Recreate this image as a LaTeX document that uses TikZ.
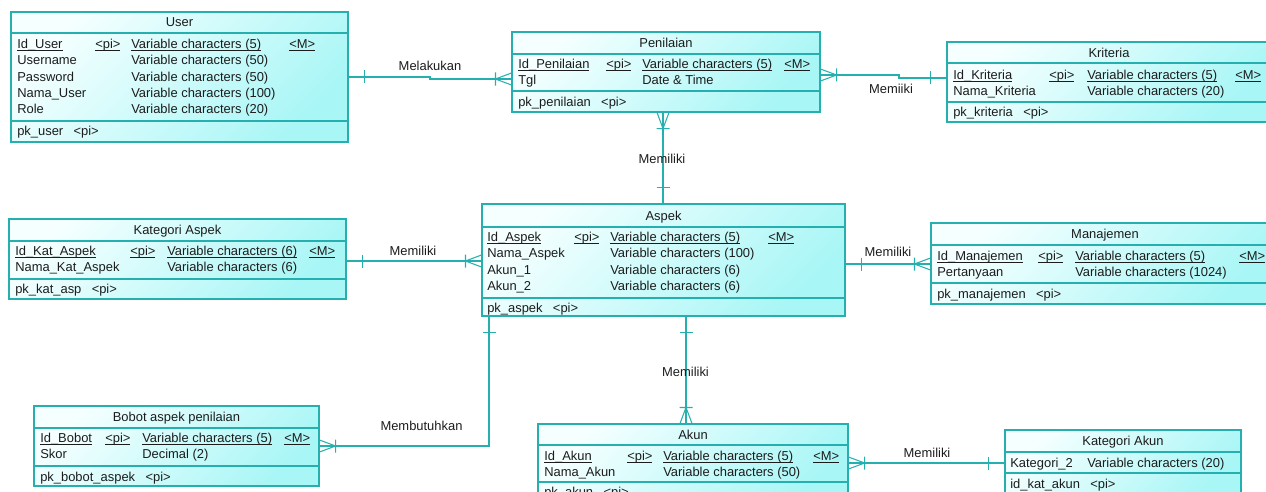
\documentclass[tikz,border=0pt]{standalone}
\usepackage{fontspec}
\setmainfont{Liberation Sans}
\usetikzlibrary{fit}
\definecolor{entline}{HTML}{26AFAF}
\definecolor{entlight}{HTML}{F5FFFF}
\definecolor{entdark}{HTML}{A9F6F6}
\definecolor{ink}{HTML}{1C1C1C}
\newcommand{\idkey}[1]{\underline{\smash{#1}}}
\begin{document}
\begin{tikzpicture}[
x=0.75pt,y=-0.75pt,
entity/.style={draw=entline,line width=0.8pt,inner sep=0pt,top color=entlight,bottom color=entdark,shading angle=45},
divider/.style={draw=entline,line width=0.8pt},
ttl/.style={anchor=base,inner sep=0pt,text=ink,font=\fontsize{9.7}{12.2}\selectfont},
col/.style={anchor=base west,inner sep=0pt,align=left,text=ink,font=\fontsize{9.7}{12.2}\selectfont},
lbl/.style={inner sep=0pt,text=ink,font=\fontsize{9.7}{12.2}\selectfont},
rel/.style={draw=entline,line width=0.8pt},
one/.pic={\draw[rel] (16,-6.5) -- (16,6.5);},
many/.pic={\draw[rel] (0,-6) -- (16,0) -- (0,6) (16,-6.5) -- (16,6.5);}
]
\useasboundingbox (0,0) rectangle (1266,492);
\clip (0,0) rectangle (1266,492);

\node[entity,fit={(11,12) (348,142)}] (user) {};
\draw[divider] (user.west |- 0,33) -- (user.east |- 0,33) (user.west |- 0,121) -- (user.east |- 0,121);
\node[ttl] (user-t) at (user.north |- 0,27) {User};
\node[col] (user-n) at (17,113.6) {\idkey{Id\_User}\\Username\\Password\\Nama\_User\\Role};
\node[col] (user-p) at (95,48.5) {\idkey{<pi>}};
\node[col] (user-d) at (131,113.6) {\idkey{Variable characters (5)}\\Variable characters (50)\\Variable characters (50)\\Variable characters (100)\\Variable characters (20)};
\node[col] (user-m) at (289,48.5) {\idkey{<M>}};
\node[col] (user-k) at (17,135.5) {pk\_user\hskip.8em<pi>};

\node[entity,fit={(512,32) (820,112)}] (penilaian) {};
\draw[divider] (penilaian.west |- 0,54) -- (penilaian.east |- 0,54) (penilaian.west |- 0,91) -- (penilaian.east |- 0,91);
\node[ttl] (penilaian-t) at (penilaian.north |- 0,47.5) {Penilaian};
\node[col] (penilaian-n) at (518,84.8) {\idkey{Id\_Penilaian}\\Tgl};
\node[col] (penilaian-p) at (606,68.5) {\idkey{<pi>}};
\node[col] (penilaian-d) at (642,84.8) {\idkey{Variable characters (5)}\\Date \& Time};
\node[col] (penilaian-m) at (784,68.5) {\idkey{<M>}};
\node[col] (penilaian-k) at (518,106.5) {pk\_penilaian\hskip.8em<pi>};

\node[entity,fit={(947,42) (1271,122)}] (kriteria) {};
\draw[divider] (kriteria.west |- 0,63) -- (kriteria.east |- 0,63) (kriteria.west |- 0,102) -- (kriteria.east |- 0,102);
\node[ttl] (kriteria-t) at (kriteria.north |- 0,57.5) {Kriteria};
\node[col] (kriteria-n) at (953,95.8) {\idkey{Id\_Kriteria}\\Nama\_Kriteria};
\node[col] (kriteria-p) at (1049,79.5) {\idkey{<pi>}};
\node[col] (kriteria-d) at (1087,95.8) {\idkey{Variable characters (5)}\\Variable characters (20)};
\node[col] (kriteria-m) at (1235,79.5) {\idkey{<M>}};
\node[col] (kriteria-k) at (953,116.5) {pk\_kriteria\hskip.8em<pi>};

\node[entity,fit={(9,219) (346,299)}] (kataspek) {};
\draw[divider] (kataspek.west |- 0,241) -- (kataspek.east |- 0,241) (kataspek.west |- 0,279) -- (kataspek.east |- 0,279);
\node[ttl] (kataspek-t) at (kataspek.north |- 0,234.5) {Kategori Aspek};
\node[col] (kataspek-n) at (15,271.8) {\idkey{Id\_Kat\_Aspek}\\Nama\_Kat\_Aspek};
\node[col] (kataspek-p) at (130,255.5) {\idkey{<pi>}};
\node[col] (kataspek-d) at (167,271.8) {\idkey{Variable characters (6)}\\Variable characters (6)};
\node[col] (kataspek-m) at (309,255.5) {\idkey{<M>}};
\node[col] (kataspek-k) at (15,293.5) {pk\_kat\_asp\hskip.8em<pi>};

\node[entity,fit={(482,204) (845,316)}] (aspek) {};
\draw[divider] (aspek.west |- 0,227) -- (aspek.east |- 0,227) (aspek.west |- 0,298) -- (aspek.east |- 0,298);
\node[ttl] (aspek-t) at (aspek.north |- 0,220.5) {Aspek};
\node[col] (aspek-n) at (487,290.3) {\idkey{Id\_Aspek}\\Nama\_Aspek\\Akun\_1\\Akun\_2};
\node[col] (aspek-p) at (574,241.5) {\idkey{<pi>}};
\node[col] (aspek-d) at (610,290.3) {\idkey{Variable characters (5)}\\Variable characters (100)\\Variable characters (6)\\Variable characters (6)};
\node[col] (aspek-m) at (768,241.5) {\idkey{<M>}};
\node[col] (aspek-k) at (487,312.5) {pk\_aspek\hskip.8em<pi>};

\node[entity,fit={(931,223) (1279,304)}] (manajemen) {};
\draw[divider] (manajemen.west |- 0,245) -- (manajemen.east |- 0,245) (manajemen.west |- 0,283) -- (manajemen.east |- 0,283);
\node[ttl] (manajemen-t) at (manajemen.north |- 0,238.5) {Manajemen};
\node[col] (manajemen-n) at (937,276.8) {\idkey{Id\_Manajemen}\\Pertanyaan};
\node[col] (manajemen-p) at (1038,260.5) {\idkey{<pi>}};
\node[col] (manajemen-d) at (1075,276.8) {\idkey{Variable characters (5)}\\Variable characters (1024)};
\node[col] (manajemen-m) at (1239,260.5) {\idkey{<M>}};
\node[col] (manajemen-k) at (937,298.5) {pk\_manajemen\hskip.8em<pi>};

\node[entity,fit={(34,406) (319,486)}] (bobot) {};
\draw[divider] (bobot.west |- 0,428) -- (bobot.east |- 0,428) (bobot.west |- 0,466) -- (bobot.east |- 0,466);
\node[ttl] (bobot-t) at (bobot.north |- 0,421.5) {Bobot aspek penilaian};
\node[col] (bobot-n) at (40,458.8) {\idkey{Id\_Bobot}\\Skor};
\node[col] (bobot-p) at (105,442.5) {\idkey{<pi>}};
\node[col] (bobot-d) at (142,458.8) {\idkey{Variable characters (5)}\\Decimal (2)};
\node[col] (bobot-m) at (284,442.5) {\idkey{<M>}};
\node[col] (bobot-k) at (40,481.5) {pk\_bobot\_aspek\hskip.8em<pi>};

\node[entity,fit={(538,424) (848,503)}] (akun) {};
\draw[divider] (akun.west |- 0,445) -- (akun.east |- 0,445) (akun.west |- 0,482) -- (akun.east |- 0,482);
\node[ttl] (akun-t) at (akun.north |- 0,439) {Akun};
\node[col] (akun-n) at (544,476.8) {\idkey{Id\_Akun}\\Nama\_Akun};
\node[col] (akun-p) at (627,460.5) {\idkey{<pi>}};
\node[col] (akun-d) at (663,476.8) {\idkey{Variable characters (5)}\\Variable characters (50)};
\node[col] (akun-m) at (813,460.5) {\idkey{<M>}};
\node[col] (akun-k) at (544,496.5) {pk\_akun\hskip.8em<pi>};

\node[entity,fit={(1005,430) (1241,495)}] (katakun) {};
\draw[divider] (katakun.west |- 0,452) -- (katakun.east |- 0,452) (katakun.west |- 0,473) -- (katakun.east |- 0,473);
\node[ttl] (katakun-t) at (katakun.north |- 0,445.5) {Kategori Akun};
\node[col] (katakun-n) at (1010,467.5) {Kategori\_2};
\node[col] (katakun-d) at (1087,467.5) {Variable characters (20)};
\node[col] (katakun-k) at (1010,488.5) {id\_kat\_akun\hskip.8em<pi>};

\draw[rel] (user.east |- 0,77) -- (430,77) -- (430,79) -- (penilaian.west |- 0,79);
\pic at (user.east |- 0,77) {one};
\pic[rotate=180] at (penilaian.west |- 0,79) {many};
\node[lbl] (melakukan) at (430,66) {Melakukan};

\draw[rel] (penilaian.east |- 0,75) -- (899,75) -- (899,78) -- (kriteria.west |- 0,78);
\pic at (penilaian.east |- 0,75) {many};
\pic[rotate=180] at (kriteria.west |- 0,78) {one};
\node[lbl] (memiiki) at (891,89) {Memiiki};

\draw[rel] (penilaian.south -| 663,0) -- (aspek.north -| 663,0);
\pic[rotate=-90] at (penilaian.south -| 663,0) {many};
\pic[rotate=90] at (aspek.north -| 663,0) {one};
\node[lbl] (memiliki-pa) at (662,159) {Memiliki};

\draw[rel] (kataspek.east |- 0,261) -- (aspek.west |- 0,261);
\pic at (kataspek.east |- 0,261) {one};
\pic[rotate=180] at (aspek.west |- 0,261) {many};
\node[lbl] (memiliki-ka) at (413,251) {Memiliki};

\draw[rel] (aspek.east |- 0,264) -- (manajemen.west |- 0,264);
\pic at (aspek.east |- 0,264) {one};
\pic[rotate=180] at (manajemen.west |- 0,264) {many};
\node[lbl] (memiliki-am) at (888,252) {Memiliki};

\draw[rel] (aspek.south -| 686,0) -- (akun.north -| 686,0);
\pic[rotate=-90] at (aspek.south -| 686,0) {one};
\pic[rotate=90] at (akun.north -| 686,0) {many};
\node[lbl] (memiliki-ak) at (685.5,372) {Memiliki};

\draw[rel] (aspek.south -| 489,0) |- (bobot.east |- 0,446);
\pic[rotate=-90] at (aspek.south -| 489,0) {one};
\pic at (bobot.east |- 0,446) {many};
\node[lbl] (membutuhkan) at (421.5,426) {Membutuhkan};

\draw[rel] (akun.east |- 0,463) -- (katakun.west |- 0,463);
\pic at (akun.east |- 0,463) {many};
\pic[rotate=180] at (katakun.west |- 0,463) {one};
\node[lbl] (memiliki-kk) at (927,453) {Memiliki};
\end{tikzpicture}
\end{document}
